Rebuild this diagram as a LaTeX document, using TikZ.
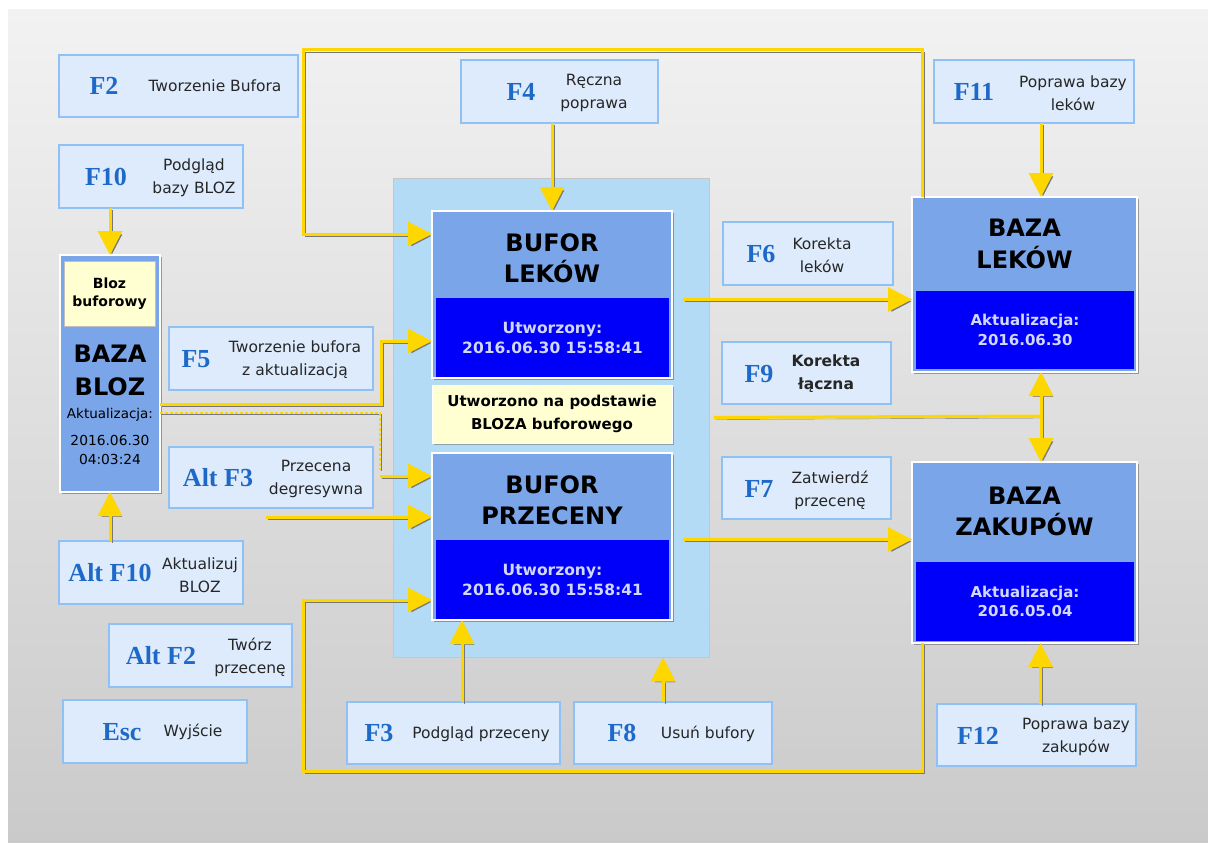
\documentclass[tikz,border=0pt]{standalone}
\usepackage{fontspec}
\setmainfont{DejaVu Sans}
\newfontfamily\keyfont{Liberation Serif}
\usetikzlibrary{positioning,calc,arrows.meta,shadows}
\definecolor{panelTop}{RGB}{242,242,242}
\definecolor{panelBot}{RGB}{202,202,202}
\definecolor{keyFill}{RGB}{221,235,252}
\definecolor{keyEdge}{RGB}{143,193,245}
\definecolor{keyBlue}{RGB}{30,105,200}
\definecolor{bigFill}{RGB}{122,165,232}
\definecolor{darkFill}{RGB}{0,0,250}
\definecolor{infoText}{RGB}{210,215,255}
\definecolor{contFill}{RGB}{179,219,245}
\definecolor{noteFill}{RGB}{255,255,210}
\definecolor{arrowYellow}{RGB}{255,215,0}
\definecolor{shadowGray}{RGB}{120,120,120}

\begin{document}
\begin{tikzpicture}[x=1pt,y=-1pt,
	>={Triangle[length=24pt,width=24pt]},
	keybox/.style={
		draw=keyEdge,
		fill=keyFill,
		line width=1.2pt,
		inner sep=0pt,
		outer sep=0pt
	},
	keylbl/.style={
		font=\keyfont\bfseries\fontsize{26}{28}\selectfont,
		text=keyBlue,
		inner sep=0pt
	},
	keytxt/.style={
		font=\fontsize{15.5}{23}\selectfont,
		text=black!85,
		align=center,
		inner sep=0pt
	},
	bigbox/.style={
		draw=white,
		line width=1.2pt,
		fill=bigFill,
		inner sep=0pt,
		outer sep=0pt,
		drop shadow={shadow xshift=2pt,shadow yshift=-2pt,fill=black!60,opacity=.6}
	},
	infobox/.style={
		fill=darkFill,
		inner sep=0pt,
		outer sep=0pt,
		text=infoText,
		align=center,
		font=\bfseries\fontsize{15.5}{20}\selectfont
	},
	titletxt/.style={
		font=\bfseries\fontsize{24}{31}\selectfont,
		align=center,
		inner sep=0pt
	},
	notebox/.style={
		fill=noteFill,
		draw=white,
		line width=1pt,
		inner sep=0pt,
		outer sep=0pt,
		align=center,
		font=\bfseries\fontsize{15}{23}\selectfont,
		drop shadow={shadow xshift=1.5pt,shadow yshift=-1.5pt,fill=black!60,opacity=.5}
	},
	conn/.style={
		draw=arrowYellow,
		line width=3pt,
		->,
		preaction={draw=shadowGray,transform canvas={shift={(2pt,-2pt)}}}
	},
	connline/.style={conn,-},
	dashline/.style={
		draw=arrowYellow,
		line width=1.3pt,
		dash pattern=on 3pt off 2pt,
		preaction={draw=shadowGray,transform canvas={shift={(1.2pt,-1.2pt)}}}
	}
	]
	\useasboundingbox (0,0) rectangle (1208,843);
	\fill[white] (0,0) rectangle (1208,843);
	\shade[top color=panelTop,bottom color=panelBot] (8,10) rectangle (1208,843);
	
	% middle area with the buffers
	\node[fill=contFill,draw=gray!45,line width=1pt,inner sep=0pt,minimum width=316,minimum height=479]
	(container) at (551,417.5) {};
	\node[bigbox,minimum width=240,minimum height=167] (bufLek) at (552,294.5) {};
	\node[infobox,minimum width=233,minimum height=79] (bufLekInfo) at (552.5,337.5)
	{Utworzony:\\2016.06.30 15:58:41};
	\node[titletxt] (bufLekT) at (552,258) {BUFOR\\LEKÓW};
	\node[notebox,minimum width=240,minimum height=58] (note) at (552,414)
	{Utworzono na podstawie\\BLOZA buforowego};
	\node[bigbox,minimum width=240,minimum height=167] (bufPrz) at (552,536.5) {};
	\node[infobox,minimum width=233,minimum height=79] (bufPrzInfo) at (552.5,579.5)
	{Utworzony:\\2016.06.30 15:58:41};
	\node[titletxt] (bufPrzT) at (552,500) {BUFOR\\PRZECENY};
	
	% bazy
	\node[bigbox,minimum width=100,minimum height=237] (bloz) at (110,373.5) {};
	\node[fill=noteFill,draw=gray!50,line width=1pt,minimum width=91,minimum height=65,
	inner sep=0pt,align=center,font=\bfseries\fontsize{14}{18}\selectfont]
	(blozBuf) at (109.5,293.5) {Bloz\\buforowy};
	\node[titletxt,font=\bfseries\fontsize{24}{33}\selectfont] (blozT) at (110,370.5) {BAZA\\BLOZ};
	\node[inner sep=0pt,font=\fontsize{13.5}{16}\selectfont] (blozAkt) at (110,415) {Aktualizacja:};
	\node[inner sep=0pt,align=center,font=\fontsize{13.8}{18.5}\selectfont] (blozDat) at (110,450)
	{2016.06.30\\04:03:24};
	
	\node[bigbox,minimum width=225,minimum height=175] (bazaLek) at (1024.5,284.5) {};
	\node[infobox,minimum width=218,minimum height=78,font=\bfseries\fontsize{15}{20}\selectfont]
	(bazaLekInfo) at (1025,330) {Aktualizacja:\\2016.06.30};
	\node[titletxt,font=\bfseries\fontsize{24}{32}\selectfont] (bazaLekT) at (1024.5,244) {BAZA\\LEKÓW};
	
	\node[bigbox,minimum width=225,minimum height=181] (bazaZak) at (1024.5,552.5) {};
	\node[infobox,minimum width=218,minimum height=79,font=\bfseries\fontsize{15}{19}\selectfont]
	(bazaZakInfo) at (1025,601.5) {Aktualizacja:\\2016.05.04};
	\node[titletxt] (bazaZakT) at (1024.5,511.5) {BAZA\\ZAKUPÓW};
	
	% klawisze
	\node[keybox,minimum width=239,minimum height=62] (kF2) at (178.5,86) {};
	\node[keylbl] (kF2k) at (104,86) {F2};
	\node[keytxt] (kF2t) at (215,86) {Tworzenie Bufora};
	
	\node[keybox,minimum width=184,minimum height=63] (kF10) at (151,176.5) {};
	\node[keylbl] (kF10k) at (106,177) {F10};
	\node[keytxt] (kF10t) at (194,178) {Podgląd\\bazy BLOZ};
	
	\node[keybox,minimum width=204,minimum height=63] (kF5) at (271,358.5) {};
	\node[keylbl] (kF5k) at (196,359) {F5};
	\node[keytxt] (kF5t) at (295,360) {Tworzenie bufora\\z aktualizacją};
	
	\node[keybox,minimum width=204,minimum height=61] (kAltF3) at (271,477.5) {};
	\node[keylbl] (kAltF3k) at (218,478) {Alt F3};
	\node[keytxt] (kAltF3t) at (316,479) {Przecena\\degresywna};
	
	\node[keybox,minimum width=184,minimum height=63] (kAltF10) at (151,572.5) {};
	\node[keylbl] (kAltF10k) at (110,573) {Alt F10};
	\node[keytxt] (kAltF10t) at (200,575) {Aktualizuj\\BLOZ};
	
	\node[keybox,minimum width=183,minimum height=63] (kAltF2) at (200.5,655.5) {};
	\node[keylbl] (kAltF2k) at (161,656) {Alt F2};
	\node[keytxt] (kAltF2t) at (250,657) {Twórz\\przecenę};
	
	\node[keybox,minimum width=184,minimum height=63] (kEsc) at (155,731.5) {};
	\node[keylbl] (kEsck) at (122,732) {Esc};
	\node[keytxt] (kEsct) at (193,732) {Wyjście};
	
	\node[keybox,minimum width=213,minimum height=62] (kF3) at (453.5,733) {};
	\node[keylbl] (kF3k) at (379,733) {F3};
	\node[keytxt] (kF3t) at (481,734) {Podgląd przeceny};
	
	\node[keybox,minimum width=198,minimum height=62] (kF8) at (673,733) {};
	\node[keylbl] (kF8k) at (622,733) {F8};
	\node[keytxt] (kF8t) at (708,734) {Usuń bufory};
	
	\node[keybox,minimum width=197,minimum height=63] (kF4) at (559.5,91.5) {};
	\node[keylbl] (kF4k) at (521,92) {F4};
	\node[keytxt] (kF4t) at (594,93) {Ręczna\\poprawa};
	
	\node[keybox,minimum width=200,minimum height=63] (kF11) at (1034,91.5) {};
	\node[keylbl] (kF11k) at (974,92) {F11};
	\node[keytxt] (kF11t) at (1073,93) {Poprawa bazy\\leków};
	
	\node[keybox,minimum width=170,minimum height=63] (kF6) at (808,253.5) {};
	\node[keylbl] (kF6k) at (761,254) {F6};
	\node[keytxt] (kF6t) at (822,255) {Korekta\\leków};
	
	\node[keybox,minimum width=169,minimum height=62] (kF9) at (806.5,373) {};
	\node[keylbl] (kF9k) at (759,374) {F9};
	\node[keytxt,font=\bfseries\fontsize{15.5}{23}\selectfont] (kF9t) at (826,374) {Korekta\\łączna};
	
	\node[keybox,minimum width=169,minimum height=62] (kF7) at (806.5,488) {};
	\node[keylbl] (kF7k) at (759,489) {F7};
	\node[keytxt] (kF7t) at (830,490) {Zatwierdź\\przecenę};
	
	\node[keybox,minimum width=199,minimum height=62] (kF12) at (1036.5,735) {};
	\node[keylbl] (kF12k) at (978,736) {F12};
	\node[keytxt] (kF12t) at (1076,737) {Poprawa bazy\\zakupów};
	
	% petle
	\coordinate (loopTR) at (922,50);
	\coordinate (loopTL) at (303,50);
	\coordinate (loopBR) at (922,771);
	\coordinate (loopBL) at (303,771);
	\coordinate (dashEnd) at (380,476);
	\coordinate (f9j) at (1041,416);
	\coordinate (f3up) at ($(kF3.north west)!0.54!(kF3.north east)$);
	\coordinate (f8up) at ($(kF8.north west)!0.45!(kF8.north east)$);
	\coordinate (f11down) at ($(kF11.south)+(7,0)$);
	\coordinate (f12up) at ($(kF12.north)+(4,0)$);
	
	\draw[conn] ($(bazaLek.north west)+(10,0)$) -- (loopTR) -- (loopTL)
	|- ($(bufLek.north west)+(0,23)$);
	\draw[conn] ($(bazaZak.south west)+(10,0)$) -- (loopBR) -- (loopBL)
	|- ($(bufPrz.north west)+(0,147)$);
	
	\draw[conn] (kF10.south -| bloz) -- (bloz.north);
	\draw[conn] (kAltF10.north -| bloz) -- (bloz.south);
	\draw[conn] ($(bloz.north east)+(0,149)$) -- ++(221,0) |- ($(bufLek.north west)+(0,130)$);
	\draw[dashline] ($(bloz.north east)+(0,158)$) -| ($(dashEnd)+(0,-6)$);
	\draw[conn] (dashEnd) -- (dashEnd -| bufPrz.west);
	\draw[conn] ($(kAltF3.south)+(-5,9)$) -- ($(bufPrz.north west)+(0,64)$);
	
	\draw[conn] (kF4.south -| bufLek) -- (bufLek.north);
	\draw[conn] (f11down) -- (f11down |- bazaLek.north);
	\draw[conn] (f12up) -- (f12up |- bazaZak.south);
	\draw[conn] (f3up) -- (f3up |- bufPrz.south);
	\draw[conn] (f8up) -- (f8up |- container.south);
	
	\draw[conn] ($(bufLek.east)+(11,5)$) -- ($(bufLek.east -| bazaLek.west)+(0,5)$);
	\draw[conn] ($(bufPrz.east)+(11,3)$) -- ($(bufPrz.east -| bazaZak.west)+(0,3)$);
	\draw[connline] ($(container.east)+(4,0)$) -- (f9j);
	\draw[conn,<->] (f9j |- bazaLek.south) -- (f9j |- bazaZak.north);
\end{tikzpicture}
\end{document}
